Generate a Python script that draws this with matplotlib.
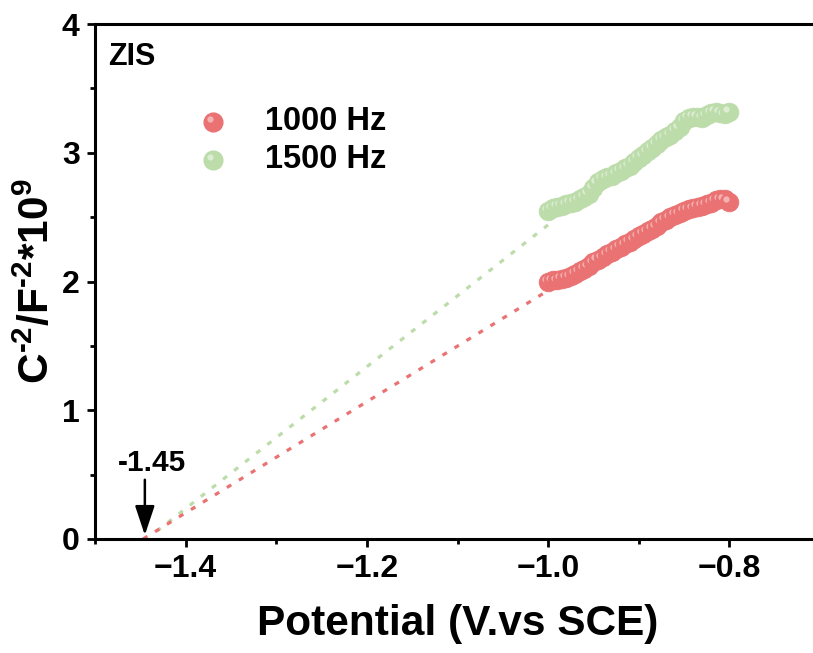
import matplotlib
matplotlib.use("Agg")
import matplotlib.pyplot as plt
import matplotlib.transforms as mtransforms
import numpy as np

plt.rcParams['font.family'] = ['Liberation Sans', 'DejaVu Sans']
plt.rcParams['font.weight'] = 'bold'
plt.rcParams['mathtext.fontset'] = 'custom'
plt.rcParams['mathtext.rm'] = 'Liberation Sans:bold'
plt.rcParams['mathtext.bf'] = 'Liberation Sans:bold'
plt.rcParams['mathtext.default'] = 'bf'

potential = [-1.000, -0.995, -0.990, -0.985, -0.980, -0.975, -0.970, -0.965, -0.960, -0.955,
             -0.950, -0.945, -0.940, -0.935, -0.930, -0.925, -0.920, -0.915, -0.910, -0.905,
             -0.900, -0.895, -0.890, -0.885, -0.880, -0.875, -0.870, -0.865, -0.860, -0.855,
             -0.850, -0.845, -0.840, -0.835, -0.830, -0.825, -0.820, -0.815, -0.810, -0.805,
             -0.800]
c_1000 = [2.00, 2.01, 2.01, 2.02, 2.03, 2.04, 2.06, 2.08, 2.10, 2.12,
          2.15, 2.17, 2.19, 2.21, 2.23, 2.25, 2.27, 2.29, 2.31, 2.33,
          2.35, 2.37, 2.39, 2.41, 2.43, 2.46, 2.48, 2.50, 2.52, 2.53,
          2.55, 2.56, 2.57, 2.58, 2.59, 2.60, 2.61, 2.63, 2.64, 2.64,
          2.62]
c_1500 = [2.55, 2.57, 2.58, 2.59, 2.60, 2.61, 2.62, 2.64, 2.66, 2.68,
          2.73, 2.77, 2.80, 2.81, 2.82, 2.84, 2.86, 2.88, 2.90, 2.93,
          2.96, 2.98, 3.01, 3.04, 3.07, 3.10, 3.12, 3.14, 3.17, 3.20,
          3.25, 3.27, 3.28, 3.28, 3.27, 3.29, 3.31, 3.32, 3.31, 3.30,
          3.32]
fit_1000_x = [-1.447, -1.0]
fit_1000_y = [0.0, 1.93]
fit_1500_x = [-1.432, -1.0]
fit_1500_y = [0.06, 2.44]
labels = ['1000 Hz', '1500 Hz']
colors = ['#EA7272', '#BCDCAA']
highlights = ['#FCE0E0', '#F2F9EE']

fig = plt.figure(figsize=(8.13, 6.53), dpi=100)
ax = fig.add_axes([95/813, 1-539/653, (820-95)/813, (539-24)/653])

# fit lines
ax.plot(fit_1500_x, fit_1500_y, color=colors[1], lw=2.3, ls=(0, (1.6, 2.8)), zorder=2)
ax.plot(fit_1000_x, fit_1000_y, color=colors[0], lw=2.3, ls=(0, (1.6, 2.8)), zorder=2)

MS = 13.5
hl_off = mtransforms.offset_copy(ax.transData, fig=fig, x=-3.5, y=2.5, units='dots')
hl_off_ax = mtransforms.offset_copy(ax.transAxes, fig=fig, x=-3.5, y=2.5, units='dots')
for ys, col, hcol in [(c_1500, colors[1], highlights[1]), (c_1000, colors[0], highlights[0])]:
    for i, (x, y) in enumerate(zip(potential, ys)):
        z = 3 + i * 0.01
        ax.plot([x], [y], 'o', ms=MS, color=col, mec=col, mew=0.5, zorder=z)
        ax.plot([x], [y], 'o', ms=4.5, color=hcol, mec='none', alpha=0.6,
                transform=hl_off, zorder=z + 0.005)

# legend (manual, in axes coordinates)
leg_y = [0.810, 0.736]
for yy, col, hcol, lab in zip(leg_y, colors, highlights, labels):
    ax.plot([0.163], [yy], 'o', ms=MS, color=col, mec=col, transform=ax.transAxes,
            clip_on=False, zorder=5)
    ax.plot([0.163], [yy], 'o', ms=4.5, color=hcol, mec='none', alpha=0.6,
            transform=hl_off_ax, clip_on=False, zorder=5.1)
    ax.text(0.234, yy, lab, transform=ax.transAxes, fontsize=23.5, fontweight='bold',
            ha='left', va='center')

ax.set_xlim(-1.5, -0.7)
ax.set_ylim(0, 4)
ax.set_xticks([-1.4, -1.2, -1.0, -0.8])
ax.set_xticks([-1.5, -1.3, -1.1, -0.9, -0.7], minor=True)
ax.set_yticks([0, 1, 2, 3, 4])
ax.set_yticks([0.5, 1.5, 2.5, 3.5], minor=True)
ax.set_xticklabels(['\u22121.4', '\u22121.2', '\u22121.0', '\u22120.8'])
ax.tick_params(axis='both', which='major', direction='out', length=6, width=2, labelsize=23, pad=5)
ax.tick_params(axis='both', which='minor', direction='out', length=3.5, width=2)
ax.tick_params(top=False, right=False, which='both')
for sp in ax.spines.values():
    sp.set_linewidth(2.2)

ax.set_xlabel('Potential (V.vs SCE)', fontsize=30.5, fontweight='bold', labelpad=14)
ax.set_ylabel(r'C$^{\text{-2}}$/F$^{\text{-2}}$*10$^{9}$', fontsize=30.5, fontweight='bold', labelpad=3)

ax.text(0.018, 0.965, 'ZIS', transform=ax.transAxes, fontsize=22, fontweight='bold',
        va='top', ha='left')
ax.text(-1.437, 0.48, '-1.45', fontsize=21.5, fontweight='bold', ha='center', va='bottom')
ax.annotate('', xy=(-1.445, 0.03), xytext=(-1.445, 0.46),
            arrowprops=dict(arrowstyle='-|>,head_length=0.9,head_width=0.3', color='black',
                            lw=1.8, mutation_scale=20, shrinkA=0, shrinkB=0))

fig.savefig('out.png', dpi=100)
